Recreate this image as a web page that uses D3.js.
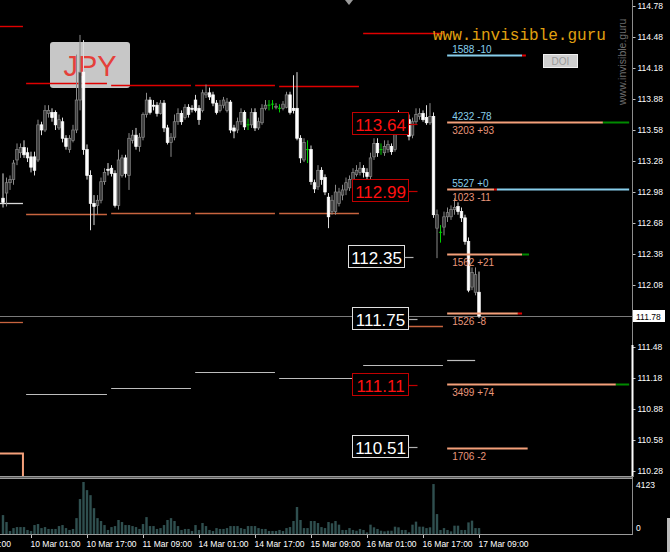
<!DOCTYPE html>
<html><head><meta charset="utf-8">
<script src="https://cdn.jsdelivr.net/npm/d3@7"></script>
<style>html,body{margin:0;padding:0;background:#000;overflow:hidden}svg{display:block}</style>
</head><body>
<svg id="c" width="670" height="552"></svg>
<script>
// ---------- DATA ----------
const open=[112.92,112.97,113.07,113.10,113.29,113.36,113.41,113.36,113.32,113.32,
113.29,113.63,113.58,113.74,113.75,113.75,113.60,113.66,113.50,113.39,
113.48,113.58,113.87,114.14,113.39,113.14,112.87,112.85,112.90,113.08,
113.20,113.21,113.16,112.85,113.14,113.31,113.14,113.48,113.53,113.42,
113.51,113.73,113.87,113.82,113.82,113.74,113.84,113.60,113.46,113.51,
113.66,113.74,113.70,113.80,113.79,113.87,113.79,113.77,113.92,113.94,
113.92,113.84,113.77,113.82,113.77,113.85,113.60,113.58,113.66,113.75,
113.63,113.63,113.75,113.60,113.65,113.79,113.82,113.83,113.80,113.79,
113.79,113.80,113.92,113.79,113.79,113.50,113.29,113.39,113.39,113.07,
113.03,113.19,113.12,112.93,112.79,112.79,112.87,112.95,113.00,113.02,
113.10,113.15,113.17,113.21,113.17,113.13,113.32,113.45,113.39,113.36,
113.39,113.42,113.39,113.71,113.61,113.63,113.68,113.53,113.66,113.71,
113.74,113.70,113.65,113.71,112.63,112.59,112.64,112.74,112.74,112.81,
112.84,112.79,112.73,112.50,112.06,112.01,112.01];
const high=[113.16,113.12,113.14,113.29,113.45,113.45,113.48,113.41,113.37,113.37,
113.68,113.66,113.82,113.82,113.79,113.77,113.73,113.70,113.53,113.53,
113.63,114.31,114.50,114.45,113.44,113.19,112.95,112.95,113.12,113.21,
113.26,113.24,113.19,113.39,113.34,113.34,113.55,113.58,113.60,113.55,
113.75,113.94,113.90,113.87,113.85,113.87,113.87,113.63,113.55,113.73,
113.79,113.77,113.83,113.83,113.82,113.92,113.82,113.97,114.02,113.99,
113.95,113.87,113.87,113.90,113.89,113.87,113.63,113.70,113.79,113.77,
113.69,113.79,113.79,113.70,113.83,113.87,113.87,113.87,113.84,113.83,
113.86,113.95,113.95,114.11,114.14,113.53,113.50,113.48,113.43,113.10,
113.24,113.22,113.15,112.97,112.95,113.05,113.02,113.05,113.12,113.14,
113.21,113.24,113.27,113.24,113.21,113.36,113.50,113.50,113.45,113.48,
113.48,113.45,113.75,113.77,113.70,113.75,113.73,113.70,113.79,113.79,
113.77,113.82,113.84,113.75,112.81,112.66,112.79,112.83,112.85,112.92,
112.88,112.83,112.76,112.54,112.25,112.25,112.21];
const low=[112.83,112.84,113.00,113.05,113.24,113.31,113.31,113.27,113.17,113.14,
113.27,113.53,113.56,113.70,113.66,113.58,113.58,113.46,113.39,113.36,
113.46,113.55,113.77,113.34,113.10,112.61,112.66,112.76,112.87,113.05,
113.14,113.13,112.83,112.81,113.12,113.12,113.00,113.45,113.39,113.37,
113.48,113.70,113.73,113.77,113.71,113.73,113.56,113.44,113.32,113.48,
113.63,113.63,113.68,113.70,113.75,113.75,113.63,113.75,113.89,113.87,
113.81,113.73,113.75,113.79,113.75,113.55,113.50,113.55,113.63,113.58,
113.58,113.60,113.57,113.58,113.63,113.77,113.77,113.78,113.78,113.75,
113.77,113.79,113.73,113.74,113.48,113.26,113.27,113.26,113.05,112.97,
113.00,113.05,112.95,112.63,112.76,112.76,112.84,112.90,112.95,112.99,
113.07,113.13,113.14,113.12,113.10,113.10,113.29,113.32,113.34,113.33,
113.36,113.34,113.37,113.58,113.58,113.60,113.48,113.50,113.64,113.68,
113.66,113.63,113.63,112.73,112.34,112.49,112.56,112.69,112.71,112.76,
112.76,112.69,112.47,112.01,112.03,111.98,111.76];
const close=[112.88,113.07,113.10,113.26,113.39,113.41,113.34,113.31,113.22,113.19,
113.63,113.58,113.77,113.77,113.70,113.63,113.68,113.50,113.42,113.50,
113.58,113.87,114.14,113.39,113.14,112.87,112.84,112.90,113.08,113.17,
113.19,113.16,112.85,113.29,113.31,113.16,113.50,113.53,113.42,113.51,
113.73,113.87,113.75,113.81,113.74,113.84,113.60,113.46,113.51,113.66,
113.74,113.66,113.80,113.73,113.78,113.77,113.68,113.94,113.94,113.90,
113.84,113.75,113.82,113.87,113.85,113.58,113.57,113.66,113.75,113.61,
113.63,113.75,113.60,113.66,113.79,113.82,113.82,113.83,113.81,113.79,
113.83,113.92,113.75,113.77,113.50,113.31,113.46,113.39,113.08,113.01,
113.19,113.10,112.98,112.74,112.90,112.98,112.98,113.00,113.07,113.10,
113.17,113.19,113.21,113.17,113.13,113.31,113.45,113.36,113.39,113.42,
113.44,113.37,113.71,113.61,113.65,113.68,113.52,113.66,113.73,113.74,
113.68,113.65,113.71,112.76,112.76,112.59,112.74,112.78,112.81,112.83,
112.79,112.73,112.50,112.03,112.20,112.18,111.78];
const volume=[1500,950,240,470,550,550,550,320,240,710,
790,470,550,400,400,400,630,710,470,320,
400,1260,2770,4123,3480,3080,2050,1260,1030,710,
320,550,630,1110,950,710,710,630,550,400,
790,1340,630,630,400,470,710,1110,1260,1030,
630,320,400,400,240,710,320,870,630,320,
240,470,400,400,470,630,630,630,470,400,
630,630,630,470,400,400,240,240,240,320,
240,470,550,1030,2140,1110,470,470,1030,1030,
870,550,470,950,850,1030,740,320,320,470,
320,260,400,320,130,740,530,400,260,210,
260,260,580,530,320,320,130,740,980,580,
580,470,530,3960,1580,320,470,320,210,660,
660,320,320,920,1060,470,470];

const priceTicks=[114.78,114.48,114.18,113.88,113.58,113.28,112.98,112.68,112.38,112.08,111.48,111.18,110.88,110.58,110.28];
const currentPrice=111.78;
const volMax=4123;
const timeLabels=["9 Mar 09:00","10 Mar 01:00","10 Mar 17:00","11 Mar 09:00","14 Mar 01:00","14 Mar 17:00","15 Mar 09:00","16 Mar 01:00","16 Mar 17:00","17 Mar 09:00"];
const timeIdx=[-10.6,8,24,40,56,72,88,104,120,136];

// daily level segments (bar-index ranges)
const dayStart=[6.6,30.9,54.9,78.9,102.9];
const dayEnd=[29.7,53.7,77.7,101.7,125.7];
const dayHigh=[114.03,114.02,114.02,114.01,114.52];
const dayLow=[112.77,112.78,112.78,112.78,111.68];
const pivotStart=[6.6,30.9,54.9,78.9,102.9,126.9];
const pivotEnd=[29.7,53.7,77.7,101.7,125.7,134.9];
const pivot=[111.03,111.08,111.24,111.18,111.31,111.35];
const prevHigh=114.59, prevPivot=112.87, prevLow=111.72, prevLow2=110.45;

// boxed levels
const boxLevels=[113.64,112.99,112.35,111.75,111.11,110.51];
const boxKind=["r","r","w","w","r","w"];

// DOI levels
const doiPrice=[114.31,113.66,113.01,112.38,111.81,111.12,110.50];
const doiTop=["1588 -10","4232 -78","5527 +0","","","",""];
const doiBottom=["","3203 +93","1023 -11","1562 +21","1526 -8","3499 +74","1706 -2"];
const doiStart=126.9;
const doiMainEnd=[148.3,171.4,140.3,148.3,147.1,175.1,149.9];
const doiTailEnd=[149.4,178.9,141.1,150.3,148.3,178.9,149.9];
const doiExtEnd=[null,null,178.9,null,null,null,null];

// ---------- DRAW ----------
const svg=d3.select("#c");
const W=670,H=552,plotR=632;
svg.append("rect").attr("width",W).attr("height",H).attr("fill","#000");

const x=d3.scaleLinear().domain([0,136]).range([3,479]);
const y=d3.scaleLinear().domain([110.28,114.78]).range([471,6]);
const yv=d3.scaleLinear().domain([0,volMax]).range([534,482]);

svg.append("defs").append("clipPath").attr("id","pc").append("rect").attr("x",0).attr("y",0).attr("width",plotR).attr("height",476);
const P=svg.append("g").attr("clip-path","url(#pc)");

// JPY box
P.append("rect").attr("x",50).attr("y",42).attr("width",80).attr("height",46).attr("rx",3)
 .attr("fill","#d2d2d2").attr("opacity",0.95);
P.append("text").attr("x",90).attr("y",76).attr("text-anchor","middle")
 .attr("font-family","Liberation Sans, Arial, sans-serif").attr("font-size",29).attr("fill","#e5403a").text("JPY");

function seg(p,s,e,col,w){P.append("line").attr("x1",x(s)).attr("x2",x(e)).attr("y1",Math.round(y(p))+0.5).attr("y2",Math.round(y(p))+0.5).attr("stroke",col).attr("stroke-width",w||1);}
dayHigh.forEach((p,k)=>seg(p,dayStart[k],dayEnd[k],"#e00000",1.4));
dayLow.forEach((p,k)=>seg(p,dayStart[k],dayEnd[k],"#c8643f",1.3));
pivot.forEach((p,k)=>seg(p,pivotStart[k],pivotEnd[k],"#bdbdbd",1.2));
seg(prevHigh,-1,5.7,"#e00000",1.4);
seg(prevPivot,-1,5.7,"#d8d8d8",1.3);
seg(prevLow,-1,5.7,"#c8643f",1.3);
P.append("path").attr("d",`M0,${Math.round(y(prevLow2))+0.5}H${x(5.7)}V477`).attr("fill","none").attr("stroke","#f4a07a").attr("stroke-width",2);

// current price line
P.append("line").attr("x1",0).attr("x2",plotR).attr("y1",Math.round(y(currentPrice))+0.5).attr("y2",Math.round(y(currentPrice))+0.5).attr("stroke","#7a7a7a");

// candles
const bars=open.map((o,i)=>({i,o,h:high[i],l:low[i],c:close[i]}));
P.selectAll("line.wick").data(bars).join("line").attr("class","wick")
 .attr("x1",d=>x(d.i)).attr("x2",d=>x(d.i)).attr("y1",d=>y(d.h)).attr("y2",d=>y(d.l))
 .attr("stroke",d=>d.c===d.o?"#00d000":(d.c<d.o?"#dcdcdc":"#8a8a8a")).attr("stroke-width",1);
P.selectAll("rect.body").data(bars.filter(d=>d.c!==d.o)).join("rect").attr("class","body")
 .attr("x",d=>x(d.i)-1.3).attr("width",2.6)
 .attr("y",d=>y(Math.max(d.o,d.c))).attr("height",d=>Math.max(1,Math.abs(y(d.o)-y(d.c))))
 .attr("fill",d=>d.c<d.o?"#ffffff":"#3c3c3c").attr("stroke",d=>d.c<d.o?"#ffffff":"#8a8a8a").attr("stroke-width",0.7);
P.selectAll("line.doji").data(bars.filter(d=>d.c===d.o)).join("line").attr("class","doji")
 .attr("x1",d=>x(d.i)-1.6).attr("x2",d=>x(d.i)+1.6).attr("y1",d=>y(d.o)).attr("y2",d=>y(d.o))
 .attr("stroke","#00d000").attr("stroke-width",1);

// boxed levels
const boxX=[352,352,348,352,352,352];
boxLevels.forEach((p,k)=>{
  const yy=Math.round(y(p));
  const red=boxKind[k]==="r";
  P.append("rect").attr("x",boxX[k]+0.5).attr("y",yy-11.5).attr("width",56).attr("height",22)
   .attr("fill","#000").attr("stroke",red?"#c00000":"#e0e0e0").attr("stroke-width",1);
  P.append("text").attr("x",boxX[k]+28.5).attr("y",yy+6.5).attr("text-anchor","middle")
   .attr("font-family","Liberation Sans, Arial, sans-serif").attr("font-size",17)
   .attr("fill",red?"#ff1010":"#ffffff").text(p.toFixed(2));
  P.append("line").attr("x1",boxX[k]+56.5).attr("x2",boxX[k]+65.5).attr("y1",yy+0.5).attr("y2",yy+0.5)
   .attr("stroke",red?"#c00000":"#b0b0b0").attr("stroke-width",1.2);
});

// DOI levels
const SAL="#f4a07a",BLU="#87ceeb";
const mainCol=[BLU,SAL,SAL,SAL,SAL,SAL,SAL];
const tailCol=["#e00000","#008a00","#e00000","#008a00","#e00000","#008a00",SAL];
doiPrice.forEach((p,k)=>{
  const yy=Math.round(y(p))+0.5;
  const L=(a,b,c)=>P.append("line").attr("x1",x(a)).attr("x2",x(b)).attr("y1",yy).attr("y2",yy).attr("stroke",c).attr("stroke-width",2);
  L(doiStart,doiMainEnd[k],mainCol[k]);
  if(doiTailEnd[k]>doiMainEnd[k]) L(doiMainEnd[k],doiTailEnd[k],tailCol[k]);
  if(doiExtEnd[k]) L(doiTailEnd[k],doiExtEnd[k],BLU);
  if(doiTop[k]) P.append("text").attr("x",x(doiStart)+5).attr("y",yy-2.5).attr("font-family","Liberation Sans, Arial, sans-serif").attr("font-size",10).attr("fill",BLU).text(doiTop[k]);
  if(doiBottom[k]) P.append("text").attr("x",x(doiStart)+5).attr("y",yy+11).attr("font-family","Liberation Sans, Arial, sans-serif").attr("font-size",10).attr("fill","#e9967a").text(doiBottom[k]);
});

// watermark
P.append("text").attr("x",433).attr("y",40).attr("font-family","Liberation Mono, DejaVu Sans Mono, monospace").attr("font-size",16)
 .attr("fill","#e0a010").text("www.invisible.guru");
P.append("text").attr("transform","translate(626,105) rotate(-90)").attr("font-family","Liberation Sans, Arial, sans-serif").attr("font-size",10.5)
 .attr("fill","#6e6e6e").text("www.invisible.guru");
// DOI button
P.append("rect").attr("x",543.5).attr("y",54.5).attr("width",34).attr("height",13).attr("fill","#cfcfcf").attr("stroke","#f0f0f0");
P.append("text").attr("x",560.5).attr("y",65).attr("text-anchor","middle").attr("font-family","Liberation Sans, Arial, sans-serif").attr("font-size",10).attr("fill","#9a9a9a").text("DOI");

// top marker
svg.append("path").attr("d","M345,0L353,0L349,5Z").attr("fill","#9a9a9a");

// price axis
const ax=svg.append("g").attr("transform",`translate(${plotR+0.5},0)`)
 .call(d3.axisRight(y).tickValues(priceTicks).tickSize(3).tickPadding(2).tickFormat(d3.format(".2f")));
ax.select(".domain").remove();
ax.selectAll("line").attr("stroke","#c0c0c0");
ax.selectAll("text").attr("fill","#ffffff").attr("font-family","Liberation Sans, Arial, sans-serif").attr("font-size",8.5);
svg.append("line").attr("x1",plotR+0.5).attr("x2",plotR+0.5).attr("y1",0).attr("y2",534).attr("stroke","#8c8c8c");
svg.append("rect").attr("x",plotR-0.5).attr("y",345).attr("width",2).attr("height",132).attr("fill","#ffffff");
// current price label
const cy=Math.round(y(currentPrice));
svg.append("rect").attr("x",plotR+1).attr("y",cy-6).attr("width",32).attr("height",12).attr("fill","#ffffff");
svg.append("text").attr("x",plotR+4).attr("y",cy+3.5).attr("font-family","Liberation Sans, Arial, sans-serif").attr("font-size",8.5).attr("fill","#000").text(currentPrice.toFixed(2));

// panel separator
svg.append("rect").attr("x",0).attr("y",476).attr("width",plotR+1).attr("height",3).attr("fill","#9a9a9a");
svg.append("line").attr("x1",0).attr("x2",plotR).attr("y1",477.5).attr("y2",477.5).attr("stroke","#5a5a5a");

// volume bars
svg.selectAll("rect.vol").data(volume).join("rect").attr("class","vol")
 .attr("x",(d,i)=>x(i)-1.2).attr("width",2.4).attr("y",d=>yv(d)).attr("height",d=>534-yv(d)).attr("fill","#2f4f4f");
svg.append("line").attr("x1",0).attr("x2",plotR+1).attr("y1",534.5).attr("y2",534.5).attr("stroke","#9a9a9a");
svg.append("text").attr("x",plotR+4).attr("y",488).attr("font-family","Liberation Sans, Arial, sans-serif").attr("font-size",8.5).attr("fill","#fff").text(String(volMax));
svg.append("text").attr("x",plotR+4).attr("y",531).attr("font-family","Liberation Sans, Arial, sans-serif").attr("font-size",8.5).attr("fill","#fff").text("0");

// time axis
timeLabels.forEach((t,k)=>{
  const tx=Math.round(x(timeIdx[k]))+0.5;
  svg.append("line").attr("x1",tx).attr("x2",tx).attr("y1",535).attr("y2",538).attr("stroke","#c0c0c0");
  svg.append("text").attr("x",tx-1).attr("y",546.5).attr("font-family","Liberation Sans, Arial, sans-serif").attr("font-size",8.5).attr("fill","#ffffff").text(t);
});

// scrollbar
svg.append("rect").attr("x",667).attr("y",518).attr("width",3).attr("height",34).attr("fill","#bdbdbd");
</script>
</body></html>
